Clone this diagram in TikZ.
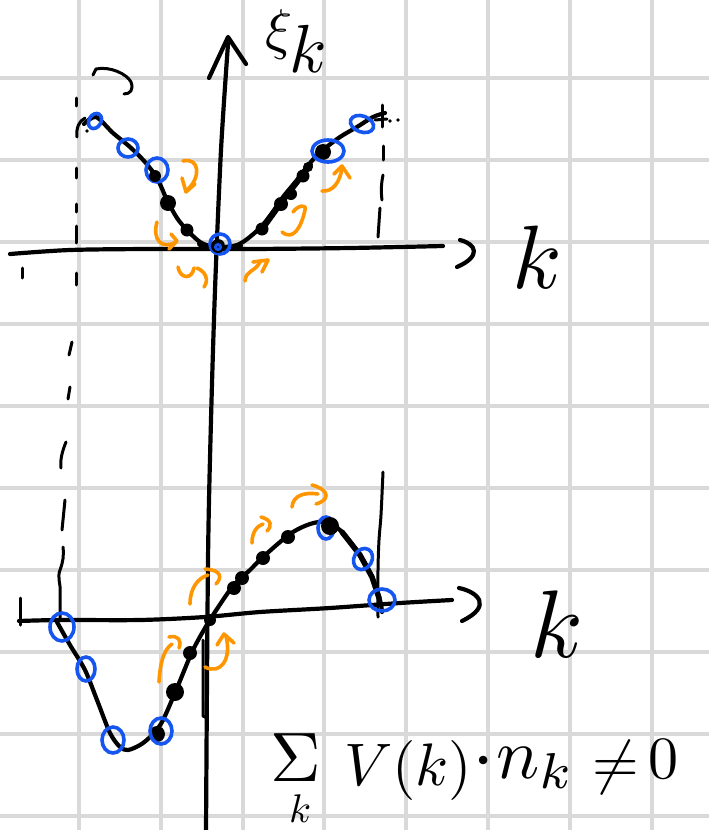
\documentclass[tikz,border=0pt]{standalone}
\usetikzlibrary{calc}
\definecolor{gridc}{RGB}{217,217,217}
\definecolor{pblue}{RGB}{22,86,240}
\definecolor{porange}{RGB}{255,150,0}
\begin{document}
\begin{tikzpicture}[x=1pt,y=-1pt,
  gridline/.style={gridc,line width=4pt},
  ink/.style={black,line width=4.2pt,line cap=round,line join=round},
  thinink/.style={black,line width=3pt,line cap=round,line join=round},
  bluering/.style={pblue,line width=3.6pt},
  orarrow/.style={porange,line width=3.6pt,line cap=round,line join=round},
  lbl/.style={inner sep=0pt,outer sep=0pt,font=\fontsize{10}{10}\selectfont}]
\useasboundingbox (0,0) rectangle (709,830);
\fill[white] (0,0) rectangle (709,830);
% grid
\foreach \i in {0,...,7} \draw[gridline] ({79+81.8*\i},0) -- ({79+81.8*\i},830);
\foreach \j in {0,...,9} \draw[gridline] (0,{78+82*\j}) -- (709,{78+82*\j});

% ---------------- vertical axis ----------------
\draw[ink] plot[smooth] coordinates {(228,44) (221,150) (215,290) (211,420) (208,560) (206,832)};
\draw[ink] (209,78) -- (228,37) -- (246,64);
\draw[thinink] (203,640) -- (203,716) -- (207,718);

% ---------------- top graph ----------------
\draw[ink] plot[smooth] coordinates {(10,254) (70,250) (150,249) (250,249) (350,248) (443,246)};
\draw[ink] (460,240) .. controls (476,244) and (482,256) .. (457,267);
\draw[thinink] (22,268) -- (22,278);
% left dashed line
\foreach \a/\b in {98/106,168/178,204/212,226/243,273/285}
  \draw[thinink] (76,\a) -- (76,\b);
\draw[thinink] (77,137) .. controls (76,128) and (79,121) .. (85,118);
\fill (87,131) circle (1.8);
% right dashed line
\draw[thinink] (382,105) -- (382,127);
\draw[thinink] (375,120) -- (387,119);
\fill (390,121) circle (1.8);
\fill (398,120) circle (1.8);
\draw[thinink] (383,146) -- (383,160);
\draw[thinink] (383,175) .. controls (381,185) and (381,192) .. (382,200);
\draw[thinink] (380,208) -- (378,237);
% black curved squiggle top-left
\draw[thinink] (93,75) -- (96,69) .. controls (110,66) and (127,74) .. (131,82) .. controls (134,90) and (130,94) .. (124,94);
% dispersion curve
\draw[ink] plot[smooth] coordinates {(84,124) (96,117) (113,133) (130,147) (145,162) (157,178) (167,200) (177,218) (187,230) (200,242) (213,247) (230,247) (243,242) (260,228) (272,213) (283,197) (297,180) (310,163) (323,150) (340,137) (357,127) (373,117) (385,113)};
\draw[black,line width=6pt,line cap=round] (200,244) -- (215,249) -- (240,246);
\draw[black,line width=6pt,line cap=round] (262,229) -- (283,200) -- (310,165);
% blue rings (top)
\draw[bluering,rotate around={-30:(95,121)}] (95,121) ellipse (6 and 8);
\draw[bluering] (128,148) ellipse (10 and 9);
\draw[bluering] (157,170) ellipse (11 and 12);
\draw[bluering] (220,244) ellipse (10 and 10);
\draw[bluering,rotate around={-20:(362,124)}] (362,124) ellipse (12 and 8);
% black dots (top)
\foreach \x/\y/\r in {155/176/6,168/203/8,187/230/6.5,218/246/7,262/229/6.5,281/204/7,291/194/6,303/176/6.5,308/167/5,323/152/8}
  \fill (\x,\y) circle (\r);
\draw[bluering] (328,151) ellipse (16 and 11);
\draw[pblue,line width=3pt] (218,247) circle (2.5);
% orange arrows (top)
\draw[orarrow] (183,161) .. controls (200,157) and (201,178) .. (187,190);
\draw[orarrow] (182,178) -- (186,192) -- (195,184);
\draw[orarrow] (157,222) .. controls (152,240) and (162,250) .. (176,242);
\draw[orarrow] (171,234) -- (177,241) -- (169,249);
\draw[orarrow] (178,267) .. controls (180,279) and (192,280) .. (194,268);
\draw[orarrow] (197,268) .. controls (206,272) and (209,280) .. (204,287);
\draw[orarrow] (245,281) .. controls (246,270) and (255,272) .. (260,262);
\draw[orarrow] (253,262) -- (268,260) -- (262,272);
\draw[orarrow] (282,232) .. controls (293,241) and (301,228) .. (305,210) .. controls (307,204) and (298,205) .. (293,212);
\draw[orarrow] (322,191) .. controls (333,192) and (340,182) .. (342,168);
\draw[orarrow] (334,174) -- (342,166) -- (350,178);

% labels top
\node[lbl,scale=5.6,anchor=base west] (xi) at (265,48) {$\xi$};
\node[lbl,scale=6.8,anchor=base west] (ek) at (289,72) {$k$};
\node[lbl,scale=9,anchor=base west] (ktop) at (512,288) {$k$};

% ---------------- bottom graph ----------------
\draw[ink] plot[smooth] coordinates {(19,621) (60,620) (140,620) (205,617) (260,612) (330,608) (400,603) (452,600)};
\draw[ink] (459,588) .. controls (478,592) and (493,606) .. (462,621);
\draw[thinink] (20,598) -- (20,625);
% left dashed / wavy line (continuation)
\draw[thinink] (72,342) -- (69,355);
\draw[thinink] (70,387) -- (68,399);
\draw[thinink] (66,442) .. controls (62,452) and (60,460) .. (61,468);
\draw[thinink] (65,500) -- (62,530);
\draw[thinink] (63,547) .. controls (64,556) and (63,562) .. (60,570) .. controls (57,578) and (61,584) .. (60,592) -- (60,620);
% right line
\draw[thinink] plot[smooth] coordinates {(383,472) (381,515) (379,540) (378,570) (378,617)};
% curve
\draw[ink] plot[smooth] coordinates {(57,622) (70,645) (85,670) (97,700) (110,733) (120,747) (128,750) (140,745) (150,737) (162,722) (177,688) (192,652) (205,628) (215,612) (233,586) (250,570) (263,557) (290,534) (310,524) (327,522) (342,532) (360,555) (372,577) (380,600) (382,612)};
\draw[black,line width=5.5pt,line cap=round] (342,532) -- (360,555) -- (372,577) -- (379,598);
% blue rings bottom (under)
\draw[bluering] (326,528) ellipse (8 and 11);
% black dots bottom
\foreach \x/\y/\r in {157/734/8,175/692/9,190/653/7,210/620/6,234/588/7,242/578/7,263/558/7,288/537/7,330/526/9}
  \fill (\x,\y) circle (\r);
\draw[bluering] (62,627) ellipse (12 and 14);
\draw[bluering] (86,669) ellipse (9 and 12);
\draw[bluering] (113,740) ellipse (11 and 13);
\draw[bluering] (161,731) ellipse (11 and 13);
\draw[bluering,rotate around={-30:(363,559)}] (363,559) ellipse (9 and 11);
\draw[bluering] (382,600) ellipse (13 and 11);
% orange arrows bottom
\draw[orarrow] (190,604) .. controls (190,588) and (198,578) .. (208,575);
\draw[orarrow] (205,569) .. controls (222,570) and (222,578) .. (216,584);
\draw[orarrow] (252,543) .. controls (252,532) and (257,526) .. (263,524);
\draw[orarrow] (261,517) .. controls (272,520) and (272,526) .. (267,531);
\draw[orarrow] (292,507) .. controls (293,495) and (305,492) .. (318,494);
\draw[orarrow] (312,485) .. controls (330,490) and (330,500) .. (316,504);
\draw[orarrow] (159,682) .. controls (160,665) and (163,650) .. (172,644);
\draw[orarrow] (169,637) .. controls (178,635) and (182,640) .. (179,648);
\draw[orarrow] (205,667) .. controls (220,675) and (232,660) .. (226,636);
\draw[orarrow] (217,645) -- (224,634) -- (234,643);

% labels bottom
\node[lbl,scale=9.6,anchor=base west] (kbot) at (530,657) {$k$};
\node[lbl,scale=7,anchor=base west] (sum) at (270,781) {$\Sigma$};
\node[lbl,scale=4,anchor=base west] (sumk) at (289,822) {$k$};
\node[lbl,scale=6,anchor=base west] (vk) at (344,785) {$V(k)$};
\node[lbl,scale=8,anchor=center] (cdot) at (484,763) {$\cdot$};
\node[lbl,scale=7.2,anchor=base west] (nk) at (496,778) {$n_k$};
\node[lbl,scale=6,anchor=base west] (neq) at (592,782) {$\neq$};
\node[lbl,scale=6,anchor=base west] (zero) at (648,778) {$0$};
\end{tikzpicture}
\end{document}
